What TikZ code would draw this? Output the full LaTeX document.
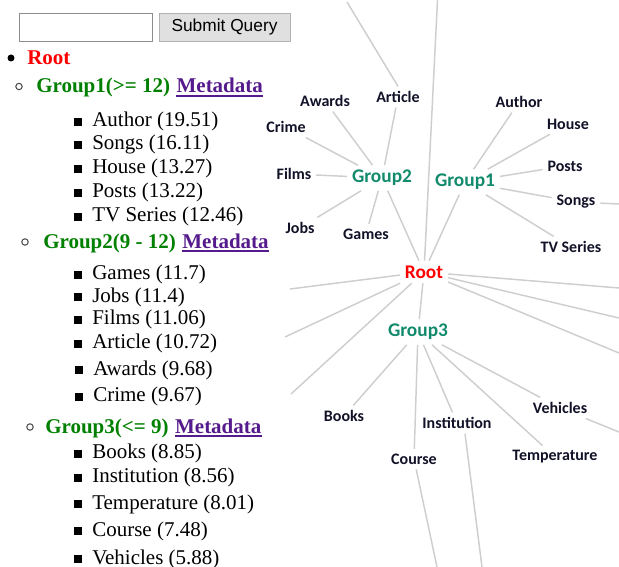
\documentclass[tikz,border=0pt]{standalone}
\usepackage{fontspec}
\setmainfont{Liberation Serif}
\newfontfamily\graphfont{Carlito}
\newfontfamily\btnfont{Liberation Sans}
\usepackage{tikz}
\usetikzlibrary{positioning}
\definecolor{rootred}{RGB}{255,0,0}
\definecolor{grpgreen}{RGB}{0,128,0}
\definecolor{linkpurple}{RGB}{85,26,139}
\definecolor{grpteal}{RGB}{18,138,108}
\definecolor{leafink}{RGB}{17,17,40}
\definecolor{edgegrey}{RGB}{206,206,206}

\begin{document}
\begin{tikzpicture}[x=0.75pt,y=-0.75pt]
			\tikzstyle{entry}=[anchor=base west,inner sep=0pt,font=\fontsize{15.75}{18}\selectfont]
			\tikzstyle{grouptxt}=[entry,font=\fontsize{15.75}{18}\selectfont\bfseries,text=grpgreen]
			\tikzstyle{metalink}=[inner sep=0pt,font=\fontsize{15.75}{18}\selectfont\bfseries,text=linkpurple]
			\tikzstyle{underln}=[draw=linkpurple,line width=1.1pt]
			\tikzstyle{sqbullet}=[rectangle,fill=black,inner sep=0pt,minimum size=6pt]
			\tikzstyle{dotbullet}=[circle,fill=black,inner sep=0pt,minimum size=5.25pt]
			\tikzstyle{circbullet}=[circle,draw=black!70,line width=0.8pt,inner sep=0pt,minimum size=4.8pt]
			\tikzstyle{leaf}=[inner sep=3.5pt,font=\graphfont\bfseries\fontsize{12}{14}\selectfont,text=leafink]
			\tikzstyle{hub}=[leaf,font=\graphfont\bfseries\fontsize{14.5}{17}\selectfont,text=grpteal]
			\tikzstyle{link}=[draw=edgegrey,line width=1.1pt]

			\useasboundingbox (0,0) rectangle (619,567);

			% query form
			\node[draw=black!45,fill=white,minimum width=99.75pt,minimum height=21pt,inner sep=0pt] (qbox) at (85.5,27) {};
			\node[draw=black!30,fill=black!12,minimum width=98.25pt,minimum height=21pt,inner sep=0pt,font=\btnfont\fontsize{13}{15}\selectfont] (qbtn) at (224.5,27) {Submit Query};

			% list
			\node[dotbullet] (broot) at (11,58) {};
			\node[entry,font=\fontsize{15.75}{18}\selectfont\bfseries,text=rootred] (lroot) at (27,65) {Root};

			\node[circbullet] (bg1) at (19,86.5) {};
			\node[grouptxt] (lg1) at (36,93) {Group1(>= 12)};
			\node[metalink,base right=4.5pt of lg1] (meta1) {Metadata};
			\draw[underln] ([yshift=-2.4pt]meta1.base west) -- ([yshift=-2.4pt]meta1.base east);

			\node[sqbullet] (b11) at (77.5,122) {};
			\node[entry] (lauthor) at (92,127) {Author (19.51)};
			\node[sqbullet] (b12) at (77.5,145) {};
			\node[entry] (lsongs) at (92,150) {Songs (16.11)};
			\node[sqbullet] (b13) at (77.5,169) {};
			\node[entry] (lhouse) at (92,174) {House (13.27)};
			\node[sqbullet] (b14) at (77.5,193) {};
			\node[entry] (lposts) at (92,198) {Posts (13.22)};
			\node[sqbullet] (b15) at (77.5,217) {};
			\node[entry] (ltv) at (92,222) {TV Series (12.46)};

			\node[circbullet] (bg2) at (25,242) {};
			\node[grouptxt] (lg2) at (43,248) {Group2(9 - 12)};
			\node[metalink,base right=4.5pt of lg2] (meta2) {Metadata};
			\draw[underln] ([yshift=-2.4pt]meta2.base west) -- ([yshift=-2.4pt]meta2.base east);

			\node[sqbullet] (b21) at (77.5,275) {};
			\node[entry] (lgames) at (92,280) {Games (11.7)};
			\node[sqbullet] (b22) at (77.5,297) {};
			\node[entry] (ljobs) at (92,302) {Jobs (11.4)};
			\node[sqbullet] (b23) at (77.5,320) {};
			\node[entry] (lfilms) at (92,325) {Films (11.06)};
			\node[sqbullet] (b24) at (77.5,344) {};
			\node[entry] (larticle) at (92,349) {Article (10.72)};
			\node[sqbullet] (b25) at (78.5,370) {};
			\node[entry] (lawards) at (93,375) {Awards (9.68)};
			\node[sqbullet] (b26) at (78.5,397) {};
			\node[entry] (lcrime) at (93,402) {Crime (9.67)};

			\node[circbullet] (bg3) at (30,427) {};
			\node[grouptxt] (lg3) at (45,433) {Group3(<= 9)};
			\node[metalink,base right=4.5pt of lg3] (meta3) {Metadata};
			\draw[underln] ([yshift=-2.4pt]meta3.base west) -- ([yshift=-2.4pt]meta3.base east);

			\node[sqbullet] (b31) at (77.5,454) {};
			\node[entry] (lbooks) at (92,459) {Books (8.85)};
			\node[sqbullet] (b32) at (77.5,478) {};
			\node[entry] (linst) at (92,483) {Institution (8.56)};
			\node[sqbullet] (b33) at (77.5,504) {};
			\node[entry] (ltemp) at (92,509) {Temperature (8.01)};
			\node[sqbullet] (b34) at (77.5,531) {};
			\node[entry] (lcourse) at (92,536) {Course (7.48)};
			\node[sqbullet] (b35) at (77.5,559) {};
			\node[entry] (lveh) at (92,564) {Vehicles (5.88)};

			% graph
			\node[hub,text=rootred] (root) at (424,272) {Root};
			\node[hub] (g1) at (465,182) {Group1};
			\node[hub] (g2) at (382,178) {Group2};
			\node[hub] (g3) at (418,332) {Group3};

			\node[leaf] (author) at (519,102) {Author};
			\node[leaf] (house) at (568,124) {House};
			\node[leaf] (posts) at (565,166) {Posts};
			\node[leaf] (songs) at (576,202) {Songs};
			\node[leaf] (tv) at (571,247) {TV Series};

			\node[leaf] (awards) at (325,101) {Awards};
			\node[leaf] (article) at (398,97) {Article};
			\node[leaf] (crime) at (286,127) {Crime};
			\node[leaf] (films) at (294,174) {Films};
			\node[leaf] (jobs) at (300,228) {Jobs};
			\node[leaf] (games) at (366,234) {Games};

			\node[leaf] (books) at (344,416) {Books};
			\node[leaf] (inst) at (457,423) {Institution};
			\node[leaf] (course) at (414,459) {Course};
			\node[leaf] (temp) at (555,457) {Temperature};
			\node[leaf] (veh) at (560,408) {Vehicles};

			% loose ends leaving the view
			\coordinate (rootN) at (437.5,0);
			\coordinate (rootW1) at (290,289);
			\coordinate (rootW2) at (285,337);
			\coordinate (rootW3) at (291,394);
			\coordinate (rootE1) at (619,288);
			\coordinate (rootE2) at (619,318);
			\coordinate (rootE3) at (619,353);
			\coordinate (articleOut) at (347,2);
			\coordinate (songsOut) at (619,204);
			\coordinate (vehOut) at (619,432);
			\coordinate (courseOut) at (437,567);
			\coordinate (instOut) at (482,567);

			\draw[link] (root) -- (g1);
			\draw[link] (root) -- (g2);
			\draw[link] (root) -- (g3);

			\draw[link] (g1) -- (author);
			\draw[link] (g1) -- (house);
			\draw[link] (g1) -- (posts);
			\draw[link] (g1) -- (songs);
			\draw[link] (g1) -- (tv);

			\draw[link] (g2) -- (awards);
			\draw[link] (g2) -- (article);
			\draw[link] (g2) -- (crime);
			\draw[link] (g2) -- (films);
			\draw[link] (g2) -- (jobs);
			\draw[link] (g2) -- (games);

			\draw[link] (g3) -- (books);
			\draw[link] (g3) -- (inst);
			\draw[link] (g3) -- (course);
			\draw[link] (g3) -- (temp);
			\draw[link] (g3) -- (veh);

			\draw[link] (root) -- (rootN);
			\draw[link] (root) -- (rootW1);
			\draw[link] (root) -- (rootW2);
			\draw[link] (root) -- (rootW3);
			\draw[link] (root) -- (rootE1);
			\draw[link] (root) -- (rootE2);
			\draw[link] (root) -- (rootE3);
			\draw[link] (article.north) -- (articleOut);
			\draw[link] (songs) -- (songsOut);
			\draw[link] (veh) -- (vehOut);
			\draw[link] (course) -- (courseOut);
			\draw[link] ([xshift=6pt]inst.south) -- (instOut);

			%\draw[link] (crime) -- (films);
		\end{tikzpicture}
\end{document}
